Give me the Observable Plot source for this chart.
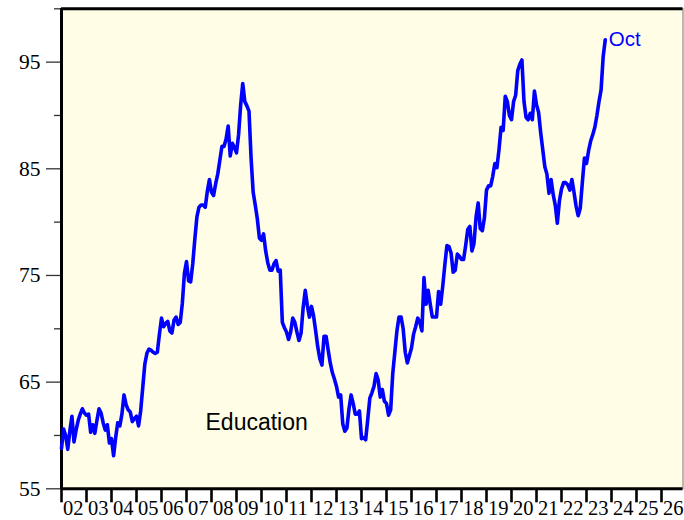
<!DOCTYPE html>
<html>
<head>
<meta charset="utf-8">
<script src="https://cdn.jsdelivr.net/npm/d3@7"></script>
<script src="https://cdn.jsdelivr.net/npm/@observablehq/plot@0.6"></script>
<style>
  html, body { margin: 0; padding: 0; background: #ffffff; }
  #chart svg { display: block; }
</style>
</head>
<body>
<div id="chart"></div>
<script>
// Monthly index values, Jan..Dec of each year (2023 ends in October)
const v2002 = [58.8, 60.6, 60.0, 58.7, 60.4, 61.8, 59.4, 60.5, 61.4, 62.0, 62.5, 62.1];
const v2003 = [61.9, 62.0, 60.3, 61.0, 60.2, 61.4, 62.5, 62.1, 61.2, 60.5, 61.0, 59.3];
const v2004 = [59.7, 58.1, 59.8, 61.2, 60.9, 62.0, 63.8, 62.9, 62.4, 62.2, 61.3, 61.6];
const v2005 = [61.8, 60.9, 62.3, 64.5, 66.7, 67.7, 68.1, 68.0, 67.8, 67.7, 67.8, 69.5];
const v2006 = [71.0, 70.2, 70.5, 70.7, 69.8, 69.6, 70.8, 71.1, 70.4, 70.6, 72.4, 75.2];
const v2007 = [76.3, 74.5, 74.4, 76.1, 78.4, 80.5, 81.4, 81.6, 81.6, 81.4, 82.9, 84.0];
const v2008 = [82.8, 82.5, 83.6, 84.5, 85.8, 87.1, 87.1, 87.8, 89.0, 86.2, 87.4, 87.0];
const v2009 = [86.5, 88.2, 91.0, 93.0, 91.3, 90.9, 90.4, 86.0, 82.8, 81.6, 80.3, 78.5];
const v2010 = [78.3, 78.9, 77.3, 76.2, 75.5, 75.5, 76.1, 76.4, 75.4, 75.5, 70.6, 70.1];
const v2011 = [69.7, 69.0, 69.7, 71.0, 70.6, 69.7, 68.9, 69.6, 72.0, 73.6, 72.2, 71.1];
const v2012 = [72.1, 71.2, 69.8, 68.3, 67.2, 66.6, 69.3, 69.3, 68.0, 66.8, 65.9, 65.3];
const v2013 = [64.6, 63.6, 63.8, 61.1, 60.4, 60.7, 62.5, 63.8, 63.0, 62.0, 62.0, 62.3];
const v2014 = [59.7, 59.8, 59.6, 61.5, 63.5, 64.0, 64.6, 65.8, 65.2, 63.6, 64.3, 63.2];
const v2015 = [63.0, 61.9, 62.4, 65.8, 67.8, 69.8, 71.1, 71.1, 70.0, 67.8, 66.8, 67.5];
const v2016 = [68.2, 69.5, 70.2, 71.0, 70.6, 69.8, 74.8, 72.3, 73.6, 72.3, 71.1, 71.1];
const v2017 = [71.1, 73.5, 72.3, 74.0, 76.0, 77.8, 77.7, 77.1, 75.3, 75.5, 77.0, 76.8];
const v2018 = [76.5, 76.5, 77.8, 79.3, 79.6, 77.3, 78.0, 80.5, 81.8, 79.4, 79.2, 80.4];
const v2019 = [83.0, 83.4, 83.4, 84.3, 85.5, 85.1, 86.8, 88.9, 88.6, 91.8, 91.3, 90.0];
const v2020 = [89.6, 91.3, 91.9, 94.2, 94.8, 95.2, 91.3, 89.8, 89.6, 90.2, 89.6, 92.3];
const v2021 = [91.0, 90.3, 88.4, 86.8, 85.2, 84.5, 82.7, 84.0, 82.6, 81.6, 79.9, 82.0];
const v2022 = [83.1, 83.7, 83.7, 83.5, 83.0, 84.0, 82.8, 81.5, 80.6, 81.3, 83.7, 86.0];
const v2023 = [85.5, 86.7, 87.6, 88.2, 88.9, 90.0, 91.3, 92.4, 95.5, 97.1];

const seriesByYear = [v2002, v2003, v2004, v2005, v2006, v2007, v2008, v2009, v2010, v2011, v2012,
                      v2013, v2014, v2015, v2016, v2017, v2018, v2019, v2020, v2021, v2022, v2023];
const firstYear = 2002;
const tickYears = d3.range(2002, 2027);          // x tick years 02..26
const yMajor = [55, 65, 75, 85, 95];              // labelled y ticks
const yMinor = [60, 70, 80, 90, 100];             // unlabelled y ticks
const seriesName = "Education";
const lastLabel = "Oct";

const data = [];
seriesByYear.forEach((arr, i) => {
  arr.forEach((v, m) => data.push({t: firstYear + i + m / 12, v}));
});
const last = data[data.length - 1];

const serif = "'Liberation Serif', 'Times New Roman', serif";
const sans = "'Liberation Sans', Arial, sans-serif";

const chart = Plot.plot({
  width: 684,
  height: 520,
  marginLeft: 61,
  marginRight: 1.5,
  marginTop: 8.3,
  marginBottom: 31.7,
  style: {fontFamily: serif, fontSize: "21px", background: "#ffffff", color: "black"},
  x: {domain: [2002, 2026.86], label: null},
  y: {domain: [55, 100], label: null},
  marks: [
    Plot.frame({fill: "#fffde6", stroke: "#8a8a8a", strokeWidth: 1.2}),
    Plot.axisY({ticks: yMinor, tickSize: 7, tickFormat: () => "", stroke: "#333", strokeWidth: 1.3, label: null}),
    Plot.axisY({ticks: yMajor, tickSize: 15, tickPadding: 6, tickFormat: d => String(d), stroke: "#333", strokeWidth: 1.3, fill: "black", fontSize: 21.5, fontFamily: serif, label: null}),
    Plot.axisX({ticks: tickYears, tickSize: 14, tickFormat: () => "", stroke: "black", strokeWidth: 2.6, label: null}),
    Plot.axisX({ticks: tickYears, tickSize: 0, tickPadding: 12, tickFormat: d => String(d).slice(2), textAnchor: "start", dx: 1.5, fill: "black", fontSize: 20.5, fontFamily: serif, label: null}),
    Plot.ruleX([2002], {stroke: "black", strokeWidth: 3}),
    Plot.ruleY([100, 55], {stroke: "black", strokeWidth: 3}),
    Plot.line(data, {x: "t", y: "v", stroke: "#0000ff", strokeWidth: 3.6, strokeLinejoin: "round", strokeLinecap: "round"}),
    Plot.text([last], {x: "t", y: "v", text: () => lastLabel, fill: "#0000ff", textAnchor: "start", dx: 3.5, fontSize: 20.5, fontFamily: sans}),
    Plot.text([{t: 2007.76, v: 61.16}], {x: "t", y: "v", text: () => seriesName, fill: "black", textAnchor: "start", fontSize: 23, fontFamily: sans})
  ]
});
document.getElementById("chart").appendChild(chart);
</script>
</body>
</html>
